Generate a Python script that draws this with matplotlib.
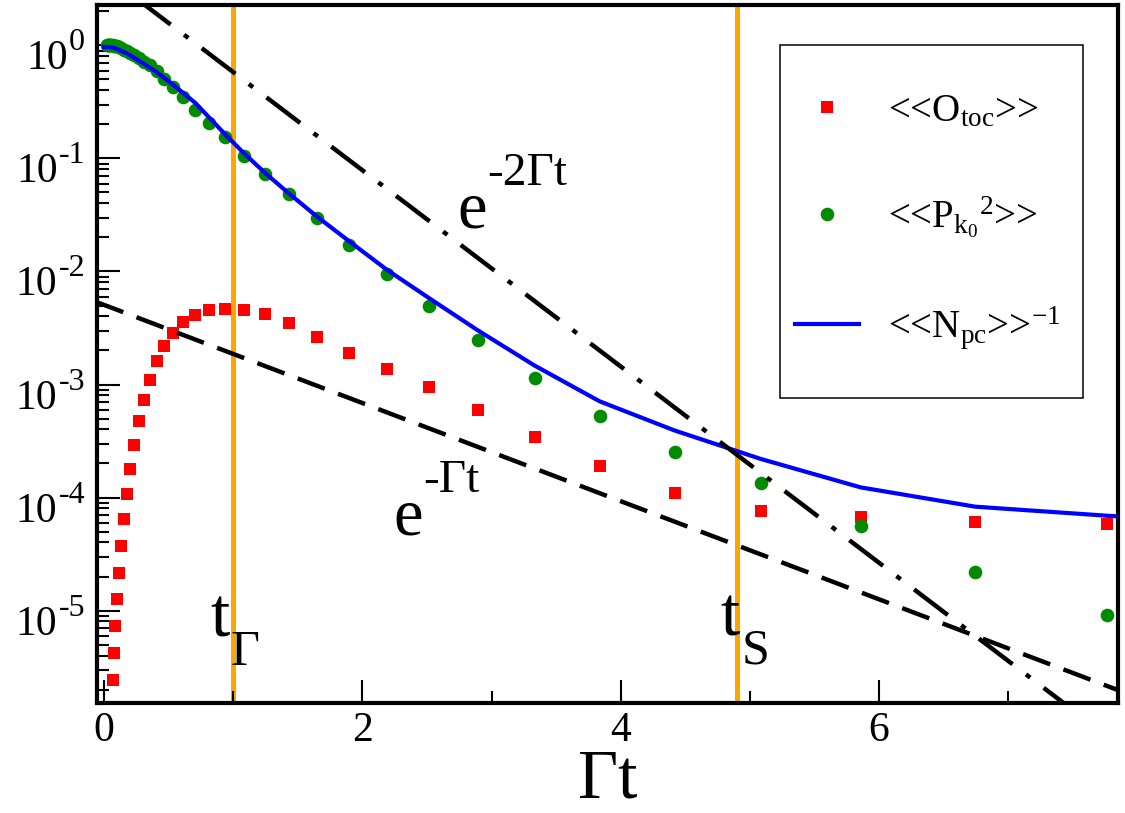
import numpy as np
import matplotlib
matplotlib.use('Agg')
import matplotlib.pyplot as plt
from matplotlib.patches import Rectangle
from matplotlib.transforms import offset_copy
from matplotlib.ticker import FixedLocator, NullFormatter, LogLocator

plt.rcParams['font.family'] = ['Liberation Serif', 'DejaVu Serif']
plt.rcParams['mathtext.fontset'] = 'custom'
plt.rcParams['mathtext.rm'] = 'Liberation Serif'
plt.rcParams['mathtext.it'] = 'Liberation Serif:italic'
plt.rcParams['mathtext.bf'] = 'Liberation Serif:bold'

# <<O_toc>> (red squares)
t_otoc = [0.067, 0.077, 0.087, 0.098, 0.116, 0.132, 0.152, 0.176, 0.199, 0.232,
          0.269, 0.307, 0.354, 0.408, 0.464, 0.534, 0.611, 0.707, 0.810, 0.939,
          1.081, 1.244, 1.432, 1.649, 1.896, 2.188, 2.518, 2.897, 3.334, 3.837,
          4.417, 5.087, 5.857, 6.744, 7.765]
otoc = [2.44e-6, 4.2e-6, 7.3e-6, 1.27e-5, 2.17e-5, 3.73e-5, 6.42e-5, 1.08e-4, 1.79e-4, 2.94e-4,
        4.73e-4, 7.3e-4, 1.10e-3, 1.61e-3, 2.18e-3, 2.88e-3, 3.54e-3, 4.16e-3, 4.52e-3, 4.68e-3,
        4.58e-3, 4.22e-3, 3.49e-3, 2.62e-3, 1.91e-3, 1.38e-3, 9.5e-4, 6.0e-4, 3.42e-4, 1.89e-4,
        1.09e-4, 7.57e-5, 6.70e-5, 6.04e-5, 5.85e-5]

# <<P_k0^2>> (green circles)
t_pk = [0.025, 0.029, 0.033, 0.038, 0.044, 0.050, 0.058,
        0.067, 0.077, 0.087, 0.098, 0.116, 0.132, 0.152, 0.176, 0.199, 0.232,
        0.269, 0.307, 0.354, 0.408, 0.464, 0.534, 0.611, 0.707, 0.810, 0.939,
        1.081, 1.244, 1.432, 1.649, 1.896, 2.188, 2.518, 2.897, 3.334, 3.837,
        4.417, 5.087, 5.857, 6.744, 7.765]
pk2 = [1.0, 1.0, 1.0, 1.0, 1.0, 1.0, 1.0,
       1.0, 0.99, 0.985, 0.98, 0.96, 0.94, 0.915, 0.885, 0.85, 0.815,
       0.77, 0.72, 0.665, 0.60, 0.50, 0.43, 0.347, 0.27, 0.205, 0.154,
       0.106, 0.073, 0.048, 0.0296, 0.0172, 0.0095, 0.0050, 0.00249, 0.00115, 5.3e-4,
       2.55e-4, 1.35e-4, 5.57e-5, 2.18e-5, 9.2e-6]

# <<N_pc>>^-1 (blue line)
t_npc = [0.0, 0.067, 0.098, 0.132, 0.176, 0.232, 0.307, 0.408, 0.534, 0.707,
         0.939, 1.081, 1.244, 1.432, 1.649, 1.896, 2.188, 2.518, 2.897, 3.334,
         3.837, 4.417, 5.087, 5.857, 6.744, 7.765, 7.85]
npc_inv = [0.97, 0.96, 0.935, 0.90, 0.85, 0.78, 0.69, 0.58, 0.45, 0.31,
           0.163, 0.112, 0.075, 0.049, 0.0306, 0.0186, 0.0104, 0.0058, 0.0030, 0.00147,
           7.1e-4, 3.92e-4, 2.19e-4, 1.23e-4, 8.3e-5, 6.9e-5, 6.8e-5]

# reference exponentials e^{-Gt} and e^{-2Gt}, end points
exp1_t = [-0.06, 7.9]
exp1_y = [5.38e-3, 1.88e-6]
exp2_t = [0.2, 7.6]
exp2_y = [2.88, 1.08e-6]

# time scales t_Gamma and t_S
t_marks = [1.0, 4.897]

# y decades with a label
y_decades = [0, -1, -2, -3, -4, -5]

fig = plt.figure(figsize=(11.25, 8.13), dpi=100)
ax = fig.add_axes([97 / 1125, 1 - 703 / 813, 1021 / 1125, 698 / 813])

for tm in t_marks:
    ax.axvline(tm, color='#FFA500', lw=3.6, zorder=1)

sq, = ax.plot(t_otoc, otoc, 's', color='#FF0000', ms=9.2, mew=0, zorder=3)
ci, = ax.plot(t_pk, pk2, 'o', color='#008B00', ms=9.8, mew=0, zorder=4)
ln, = ax.plot(t_npc, npc_inv, '-', color='#0000FF', lw=3, zorder=5)
ax.plot(exp1_t, exp1_y, color='black', lw=3.2, linestyle=(0, (6.5, 3.2)),
        dash_capstyle='butt', zorder=6)
ax.plot(exp2_t, exp2_y, color='black', lw=3.2,
        linestyle=(0, (9.5, 3.8, 1.2, 3.8)), dash_capstyle='butt', zorder=6)

ax.set_yscale('log')
ax.set_xlim(-0.054, 7.85)
ax.set_ylim(1.52e-6, 2.28)

ax.xaxis.set_major_locator(FixedLocator([0, 2, 4, 6]))
ax.xaxis.set_minor_locator(FixedLocator([1, 3, 5, 7]))
ax.yaxis.set_major_locator(LogLocator(base=10, numticks=20))
ax.yaxis.set_minor_locator(LogLocator(base=10, subs=np.arange(2, 10), numticks=20))
ax.yaxis.set_minor_formatter(NullFormatter())
ax.yaxis.set_major_formatter(NullFormatter())

ax.tick_params(which='both', direction='in', top=False, right=False, width=1.5,
               labelsize=30, color='black')
ax.tick_params(which='major', length=16.5)
ax.tick_params(which='minor', length=8.5)
ax.tick_params(axis='x', pad=6)
for sp in ax.spines.values():
    sp.set_linewidth(3)

# y tick labels "10" with a raised exponent, right aligned next to the axis
renderer = fig.canvas.get_renderer()
ytr = ax.get_yaxis_transform()
for k in y_decades:
    s = ax.text(-12 / 1021, 10.0 ** k, '%d' % k, fontsize=23, ha='right', va='baseline',
                transform=offset_copy(ytr, fig=fig, y=-5, units='dots'))
    w = s.get_window_extent(renderer).width
    ax.text(-12 / 1021, 10.0 ** k, '10', fontsize=30, ha='right', va='baseline',
            transform=offset_copy(ytr, fig=fig, x=-w - 1, y=-24, units='dots'))

ax.set_xlabel('Γt', fontsize=50)
ax.xaxis.set_label_coords(0.5, -0.1354)
ax.xaxis.label.set_verticalalignment('baseline')

# curve annotations
kw = dict(transform=ax.transAxes, ha='left', va='baseline', zorder=7)
ax.text(0.3526, 0.6819, 'e', fontsize=48, **kw)
ax.text(0.3820, 0.7421, '-2Γt', fontsize=34, **kw)
ax.text(0.2899, 0.2407, 'e', fontsize=48, **kw)
ax.text(0.3193, 0.3023, '-Γt', fontsize=34, **kw)
ax.text(0.1107, 0.0946, 't', fontsize=50, **kw)
ax.text(0.1303, 0.0544, 'Γ', fontsize=36, **kw)
ax.text(0.6102, 0.0974, 't', fontsize=50, **kw)
ax.text(0.6317, 0.0573, 'S', fontsize=36, **kw)

# legend
ax.add_patch(Rectangle((0.669, 0.437), 0.2967, 0.5057, transform=ax.transAxes,
                       fill=True, facecolor='white', edgecolor='black', lw=1.1, zorder=8))
labels = ['<<O$_{\\mathregular{toc}}$>>',
          '<<P$_{\\mathregular{k_0}}{}^{\\mathregular{2}}$>>',
          '<<N$_{\\mathregular{pc}}$>>$^{\\mathregular{-1}}$']
leg = ax.legend([sq, ci, ln], labels, loc='upper left', bbox_to_anchor=(0.6836, 0.874),
                frameon=False, fontsize=28, handlelength=1.645, handletextpad=0.745,
                borderpad=0, borderaxespad=0, labelspacing=1.66, numpoints=1)
leg.set_zorder(9)

fig.savefig('out.png', dpi=100)
